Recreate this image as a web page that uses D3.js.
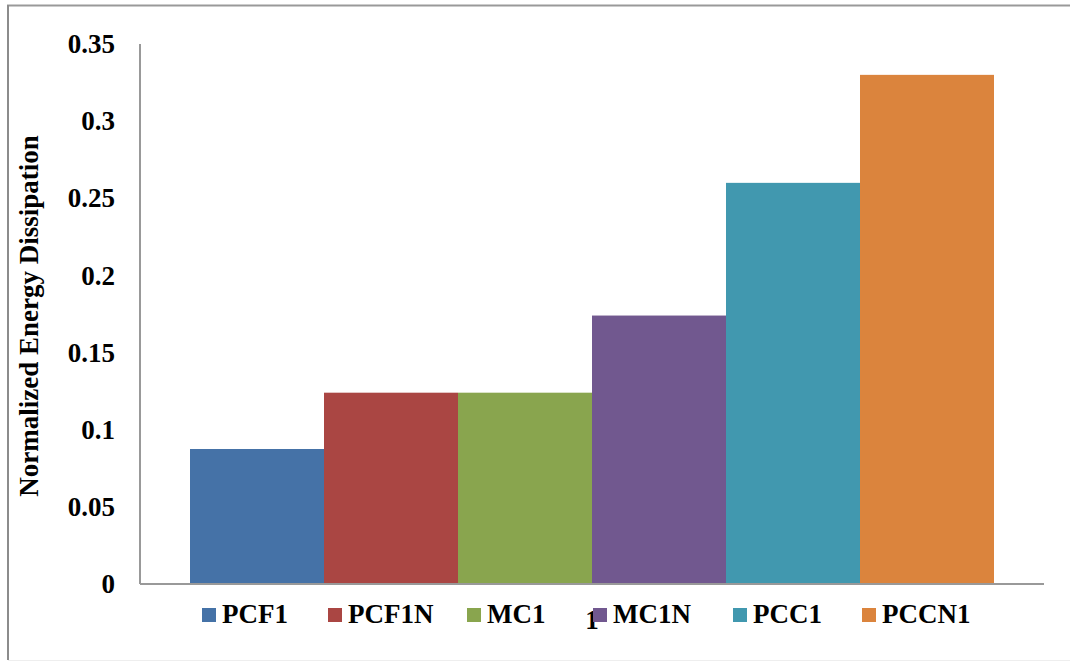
<!DOCTYPE html>
<html>
<head>
<meta charset="utf-8">
<script src="https://cdn.jsdelivr.net/npm/d3@7"></script>
<style>
  html, body { margin: 0; padding: 0; background: #fff; }
  svg { display: block; }
  text { font-family: "Liberation Serif", "Times New Roman", serif; font-weight: bold; fill: #000; }
</style>
</head>
<body>
<svg id="chart" width="1070" height="661"></svg>
<script>
// Energy dissipation, normalized, for each specimen (single category "1")
const categories = ["1"];
const seriesNames = ["PCF1", "PCF1N", "MC1", "MC1N", "PCC1", "PCCN1"];
const seriesValues = [0.0875, 0.124, 0.124, 0.174, 0.26, 0.33];
const seriesColors = ["#4572A7", "#AA4643", "#89A54E", "#71588F", "#4198AF", "#DB843D"];
const yTickValues = [0, 0.05, 0.1, 0.15, 0.2, 0.25, 0.3, 0.35];
const yTickLabels = ["0", "0.05", "0.1", "0.15", "0.2", "0.25", "0.3", "0.35"];
const yTitle = "Normalized Energy Dissipation";

const svg = d3.select("#chart");
const W = 1070, H = 661;
const plot = { left: 140, right: 1044, top: 44, bottom: 584 };

// chart frame
svg.append("line").attr("x1", 7).attr("x2", W).attr("y1", 5.5).attr("y2", 5.5)
  .attr("stroke", "#999").attr("stroke-width", 2);
svg.append("line").attr("x1", 8).attr("x2", 8).attr("y1", 5).attr("y2", 660)
  .attr("stroke", "#8c8c8c").attr("stroke-width", 2);
svg.append("line").attr("x1", 8).attr("x2", W).attr("y1", 660.5).attr("y2", 660.5)
  .attr("stroke", "#eeeeee").attr("stroke-width", 1);

const y = d3.scaleLinear().domain([0, 0.35]).range([plot.bottom, plot.top]);

// outer band: one category, gap on each side of the cluster
const x0 = d3.scaleBand().domain(categories).range([plot.left, plot.right])
  .paddingInner(0).paddingOuter(0.0622);
const x1 = d3.scaleBand().domain(seriesNames).range([0, x0.bandwidth()]).padding(0);

// bars
const g = svg.append("g");
g.selectAll("rect")
  .data(seriesNames.map((n, i) => ({ name: n, value: seriesValues[i], color: seriesColors[i] })))
  .join("rect")
  .attr("x", d => x0(categories[0]) + x1(d.name))
  .attr("y", d => y(d.value))
  .attr("width", x1.bandwidth())
  .attr("height", d => y(0) - y(d.value))
  .attr("fill", d => d.color);

// y axis
const yAxis = d3.axisLeft(y).tickValues(yTickValues)
  .tickFormat((d, i) => yTickLabels[i]).tickSize(0).tickPadding(25);
const yg = svg.append("g").attr("transform", `translate(${plot.left},0)`).call(yAxis);
yg.select(".domain").attr("stroke", "#999").attr("stroke-width", 2)
  .attr("d", `M0,${plot.top}V${plot.bottom}`);
yg.selectAll("text").style("font-family", "'Liberation Serif', serif")
  .style("font-weight", "bold").style("font-size", "27px").attr("fill", "#000");

// x axis (category label)
const xAxis = d3.axisBottom(x0).tickSize(0).tickPadding(26);
const xg = svg.append("g").attr("transform", `translate(0,${plot.bottom})`).call(xAxis);
xg.select(".domain").attr("stroke", "#999").attr("stroke-width", 2)
  .attr("d", `M${plot.left},0H${plot.right}`);
xg.selectAll("text").style("font-family", "'Liberation Serif', serif")
  .style("font-weight", "bold").style("font-size", "27px").attr("fill", "#000");

// y axis title
svg.append("text")
  .attr("transform", `translate(38,316) rotate(-90)`)
  .attr("text-anchor", "middle")
  .style("font-size", "27px")
  .text(yTitle);

// legend
const legendX = [202, 328, 467, 593, 733, 862];
const legend = svg.append("g");
seriesNames.forEach((n, i) => {
  const it = legend.append("g").attr("transform", `translate(${legendX[i]},0)`);
  it.append("rect").attr("x", 0).attr("y", 608).attr("width", 14).attr("height", 14)
    .attr("fill", seriesColors[i]);
  it.append("text").attr("x", 20).attr("y", 623).style("font-size", "27px").text(n);
});
</script>
</body>
</html>
